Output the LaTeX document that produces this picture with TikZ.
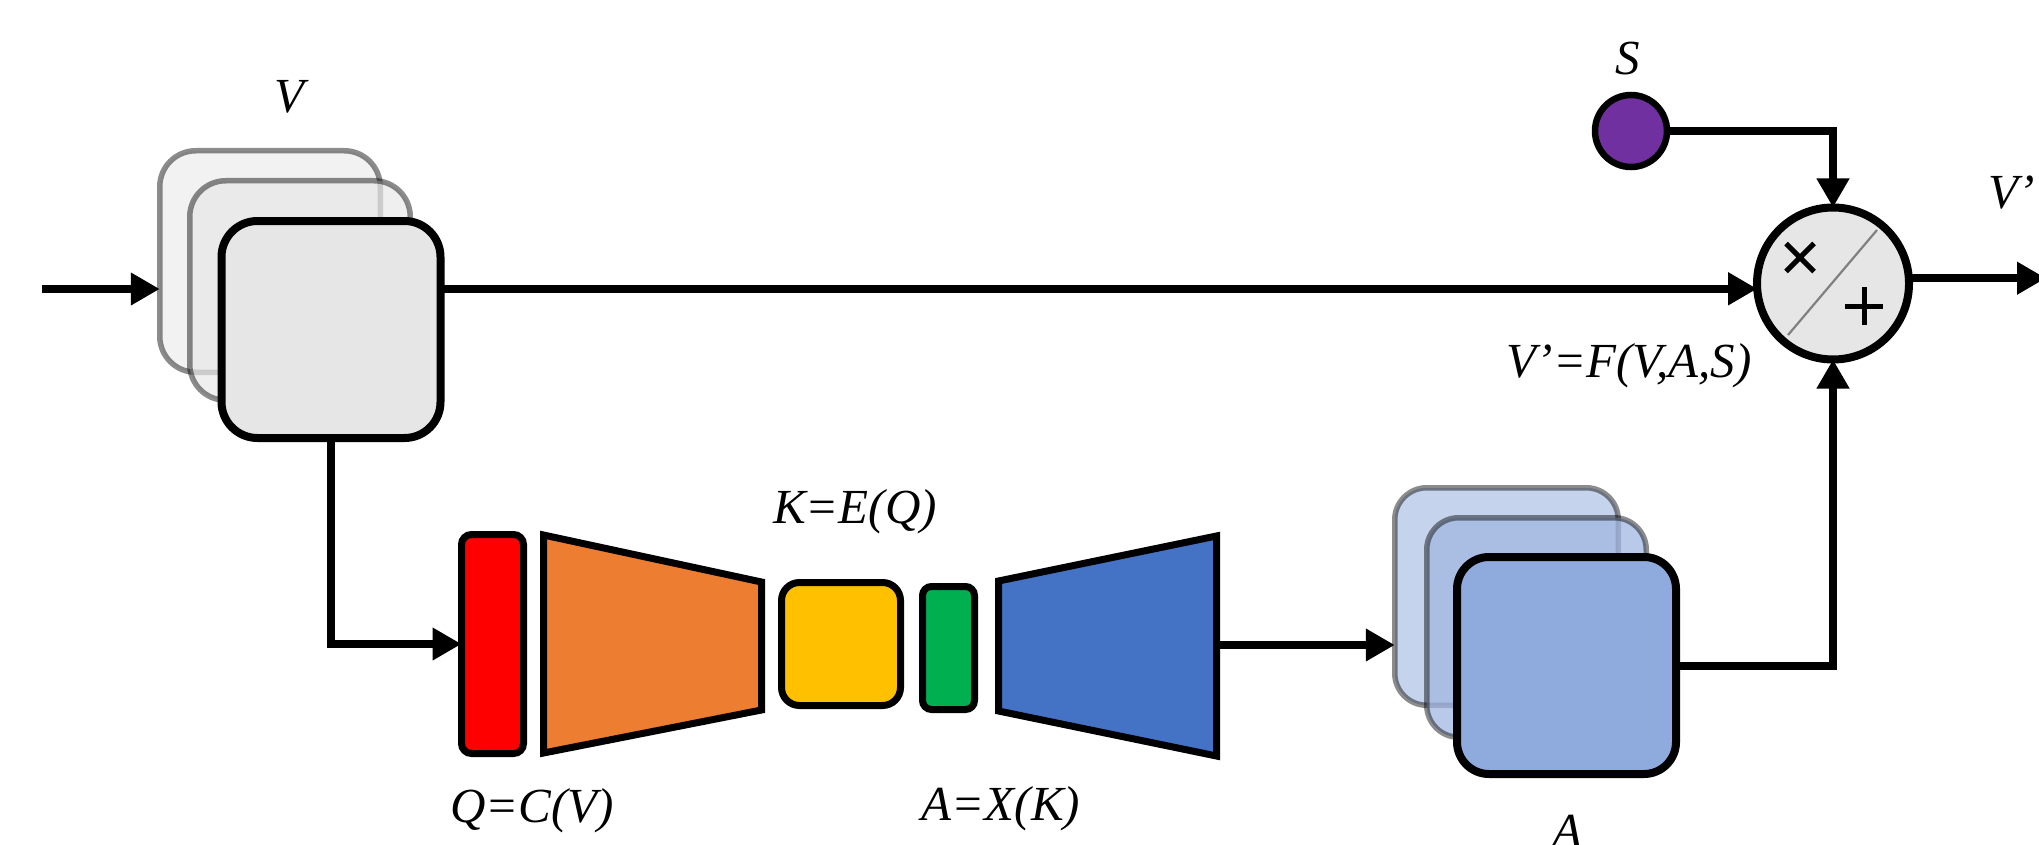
\documentclass[tikz,border=0pt]{standalone}
\usepackage{fontspec}
\setmainfont{Liberation Serif}
\usetikzlibrary{arrows.meta,calc}

\definecolor{boxgray}{HTML}{E6E6E6}
\definecolor{backgrayA}{HTML}{F2F2F2}
\definecolor{backgrayB}{HTML}{E8E8E8}
\definecolor{attnA}{HTML}{8FAADC}
\definecolor{attnBackA}{HTML}{C5D3EC}
\definecolor{attnBackB}{HTML}{A2B7E2}
\definecolor{convred}{HTML}{FF0000}
\definecolor{encorange}{HTML}{ED7D31}
\definecolor{codeyellow}{HTML}{FFC000}
\definecolor{codegreen}{HTML}{00B050}
\definecolor{decblue}{HTML}{4472C4}
\definecolor{scalepurple}{HTML}{7030A0}

\begin{document}
\begin{tikzpicture}[x=1pt,y=-1pt,
  conn/.style={line width=8pt,-{Triangle[length=29pt,width=31pt]}},
  lab/.style={font=\fontsize{49}{58}\selectfont\itshape,inner sep=0pt,anchor=base},
  backbox/.style={rectangle,rounded corners=36pt,draw=black,draw opacity=0.45,
    line width=5.5pt,inner sep=0pt,outer sep=0pt},
  frontbox/.style={rectangle,rounded corners=36pt,draw=black,line width=8pt,
    inner sep=0pt,outer sep=0pt},
  layer/.style={rectangle,draw=black,line width=7pt,inner sep=0pt,outer sep=0pt},
  opnode/.style={circle,draw=black,line width=8pt,inner sep=0pt,outer sep=0pt}]

\useasboundingbox (0,0) rectangle (2039,845);

% input feature stack V
\node[backbox,fill=backgrayA,minimum width=220.5pt,minimum height=221.5pt] (vb1) at (270,261.5) {};
\node[backbox,fill=backgrayB,fill opacity=0.7,minimum width=220.5pt,minimum height=219.5pt] (vb2) at (300,290.5) {};
\node[frontbox,fill=boxgray,minimum width=219pt,minimum height=217pt] (vf) at (331,329.5) {};

% attention map stack A
\node[backbox,rounded corners=32pt,fill=attnBackA,minimum width=223.5pt,minimum height=217.5pt] (ab1) at (1506.5,596.5) {};
\node[backbox,rounded corners=32pt,fill=attnBackB,fill opacity=0.75,minimum width=219.5pt,minimum height=219.5pt] (ab2) at (1536.5,627.5) {};
\node[frontbox,rounded corners=32pt,fill=attnA,minimum width=219pt,minimum height=217pt] (af) at (1566.5,665.5) {};

% encoder / decoder chain
\node[layer,rounded corners=10pt,fill=convred,minimum width=62pt,minimum height=219pt] (red) at (492.5,644) {};
\filldraw[fill=encorange,draw=black,line width=7pt,line join=miter]
  (543.5,535) -- (761.5,582) -- (761.5,710) -- (543.5,753) -- cycle;
\node[layer,rounded corners=18pt,fill=codeyellow,minimum width=119pt,minimum height=123pt] (yel) at (841,644) {};
\node[layer,rounded corners=9pt,fill=codegreen,minimum width=52pt,minimum height=123pt] (grn) at (948.5,648) {};
\filldraw[fill=decblue,draw=black,line width=7pt,line join=miter]
  (998.5,581) -- (1216.5,536) -- (1216.5,756) -- (998.5,711) -- cycle;
\coordinate (decout) at (1220,645);

% fusion operator and scale input
\node[opnode,fill=boxgray,minimum size=152pt] (mix) at (1833,283.5) {};
\draw[gray,line width=2.2pt] ($(mix.center)+(-45,51.5)$) -- ($(mix.center)+(44,-53.5)$);
\draw[line width=5pt] ($(mix.center)+(-47,-40)$) -- ($(mix.center)+(-19,-12)$)
                      ($(mix.center)+(-47,-12)$) -- ($(mix.center)+(-19,-40)$);
\draw[line width=5pt] ($(mix.center)+(12,22.5)$) -- ($(mix.center)+(50,22.5)$)
                      ($(mix.center)+(31,3.5)$) -- ($(mix.center)+(31,41.5)$);
\node[opnode,line width=6.5pt,fill=scalepurple,minimum size=72pt] (s) at (1631,131) {};

% connectors
\coordinate (in) at (42,289);
\coordinate (out) at (2046,0);
\draw[conn] (in) -- (vb1.west |- in);
\draw[conn] (vf.east |- mix.184) -- (mix.184);
\draw[conn] (vf.south) |- (red.west);
\draw[conn] (decout) -- (ab1.west |- decout);
\draw[conn] (af.east) -| (mix.south);
\draw[conn] (s.east) -| (mix.north);
\draw[conn] (mix.4) -- (mix.4 -| out);

% labels
\node[lab] (tV) at (289,113) {V};
\node[lab] (tS) at (1628,75) {S};
\node[lab] (tVp) at (2012,208) {V’};
\node[lab] (tF) at (1629,377) {V’=F(V,A,S)};
\node[lab] (tK) at (855,523) {K=E(Q)};
\node[lab] (tQ) at (532,822) {Q=C(V)};
\node[lab] (tA2) at (1001,820) {A=X(K)};
\node[lab] (tA) at (1567,847) {A};
\end{tikzpicture}
\end{document}
